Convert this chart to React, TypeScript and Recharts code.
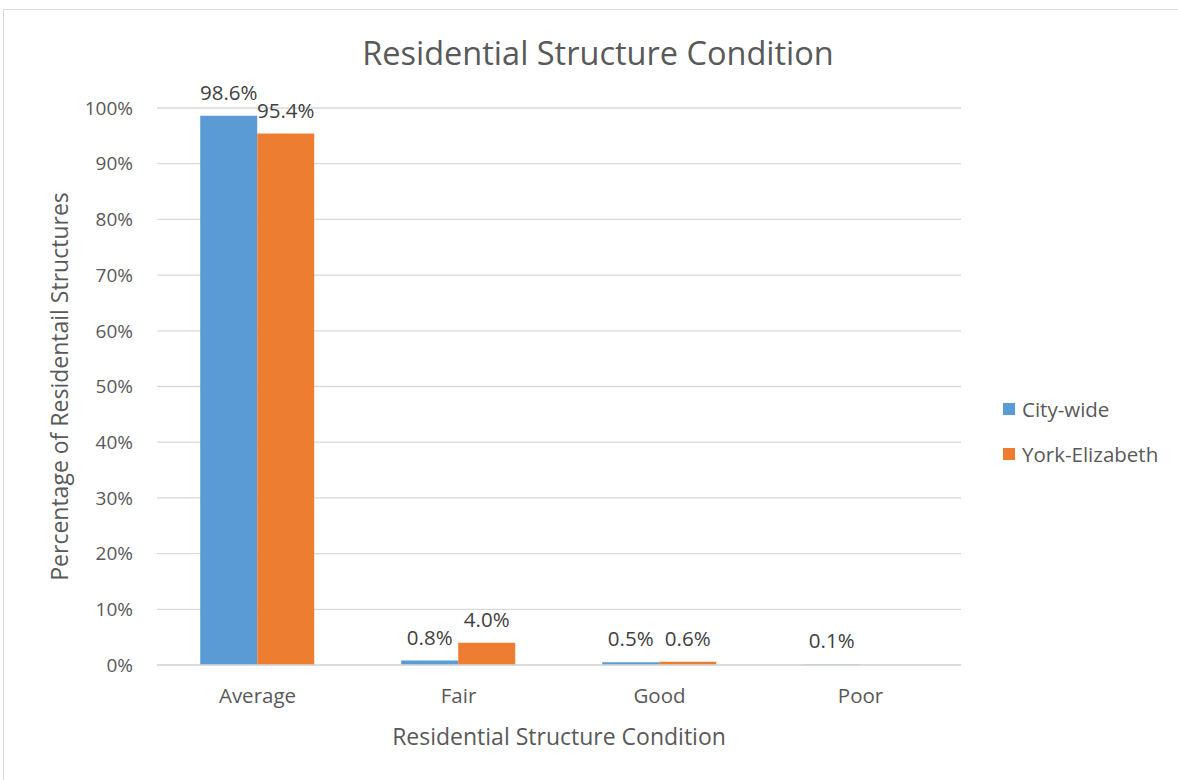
import { BarChart, Bar, XAxis, YAxis, CartesianGrid, Legend, LabelList } from "recharts";

const conditions = ["Average", "Fair", "Good", "Poor"];
const cityWide = [98.6, 0.8, 0.5, 0.1];
const yorkElizabeth: (number | null)[] = [95.4, 4.0, 0.6, null];
const yTicks = [0, 10, 20, 30, 40, 50, 60, 70, 80, 90, 100];

const data = conditions.map((c, i) => ({
  condition: c,
  city: cityWide[i],
  york: yorkElizabeth[i],
}));

const FONT = "'Open Sans', Lato, sans-serif";
const TEXT = "#595959";
const BLUE = "#5b9bd5";
const ORANGE = "#ed7d31";

const pct = (v: unknown) => (v == null ? "" : `${Number(v).toFixed(1)}%`);

function LegendBox({ payload }: any) {
  return (
    <div style={{ fontFamily: FONT, fontSize: 20.5, color: TEXT }}>
      {(payload || []).map((p: any) => (
        <div key={p.value} style={{ display: "flex", alignItems: "center", height: 45 }}>
          <span style={{ width: 12, height: 12, background: p.color, marginRight: 7, display: "inline-block" }} />
          {p.value}
        </div>
      ))}
    </div>
  );
}

function YTitle({ viewBox }: any) {
  const { y, height } = viewBox;
  const cy = y + height / 2;
  return (
    <text
      x={59}
      y={cy}
      transform={`rotate(-90 59 ${cy})`}
      textAnchor="middle"
      dominantBaseline="central"
      fill={TEXT}
      fontSize={23}
      fontFamily={FONT}
    >
      Percentage of Residentail Structures
    </text>
  );
}

export default function App() {
  return (
    <div style={{ position: "absolute", left: 0, top: 0, width: 1178, height: 780, overflow: "hidden", background: "#fff" }}>
      <div style={{ position: "absolute", left: 3, top: 9, width: 1300, height: 900, border: "1px solid #d9d9d9" }} />
      <div
        style={{
          position: "absolute",
          left: 0,
          top: 32,
          width: 1196,
          textAlign: "center",
          fontFamily: FONT,
          fontSize: 32.5,
          color: TEXT,
          lineHeight: "42px",
        }}
      >
        Residential Structure Condition
      </div>
      <BarChart
        width={1178}
        height={780}
        data={data}
        margin={{ top: 108, right: 42, bottom: 0, left: 0 }}
        barCategoryGap="21.5%"
        barGap={0}
        style={{ position: "absolute", left: 0, top: 0 }}
      >
        <CartesianGrid vertical={false} stroke="#d9d9d9" strokeWidth={1.3} />
        <XAxis
          dataKey="condition"
          height={115}
          tickSize={0}
          tickMargin={23}
          axisLine={{ stroke: "#d9d9d9", strokeWidth: 1.3 }}
          tickLine={false}
          tick={{ fill: TEXT, fontSize: 20.5, fontFamily: FONT }}
          label={{
            value: "Residential Structure Condition",
            position: "insideBottom",
            offset: 35,
            fill: TEXT,
            fontSize: 23,
            fontFamily: FONT,
          }}
        />
        <YAxis
          width={157}
          domain={[0, 100]}
          ticks={yTicks}
          tickFormatter={(v: number) => `${v}%`}
          tickSize={0}
          tickMargin={24}
          axisLine={false}
          tickLine={false}
          tick={{ fill: TEXT, fontSize: 19, fontFamily: FONT }}
          label={<YTitle />}
        />
        <Legend
          layout="vertical"
          align="right"
          verticalAlign="top"
          content={<LegendBox />}
          wrapperStyle={{ left: 1003, top: 386, width: 175 }}
        />
        <Bar dataKey="city" name="City-wide" fill={BLUE} isAnimationActive={false}>
          <LabelList dataKey="city" position="top" offset={16} formatter={pct} fill="#404040" fontSize={20.5} fontFamily={FONT} />
        </Bar>
        <Bar dataKey="york" name="York-Elizabeth" fill={ORANGE} isAnimationActive={false}>
          <LabelList dataKey="york" position="top" offset={16} formatter={pct} fill="#404040" fontSize={20.5} fontFamily={FONT} />
        </Bar>
      </BarChart>
    </div>
  );
}
